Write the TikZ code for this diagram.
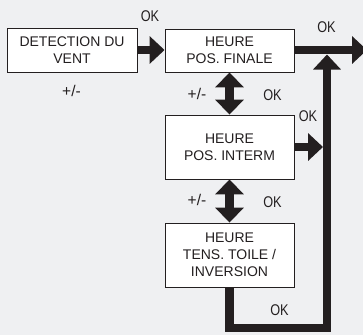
\documentclass[tikz,border=0pt]{standalone}
\usepackage{fontspec}
\setmainfont{Liberation Sans}
\newfontfamily\lblfont[FakeStretch=0.82]{Liberation Sans}
\usetikzlibrary{arrows.meta}
\definecolor{bgc}{RGB}{239,240,242}
\definecolor{ink}{RGB}{35,31,32}
\tikzset{
  box/.style={draw=ink, line width=0.9pt, fill=white, minimum width=129pt, align=center, inner sep=0pt,
    font=\fontsize{14}{17}\selectfont, text=ink},
  lbl/.style={anchor=base, inner sep=0pt, font=\lblfont\fontsize{15.5}{17}\selectfont, text=ink},
  pm/.style={anchor=base, inner sep=0pt, font=\fontsize{15.5}{17}\selectfont, text=ink},
  bigarrow/.style={draw=ink, line width=8.5pt, -{Triangle[width=27pt,length=15pt]}, ink},
  dblarrow/.style={draw=ink, line width=9pt, {Triangle[width=28pt,length=15pt]}-{Triangle[width=28pt,length=15pt]}, ink},
  loopline/.style={draw=ink, line width=8.5pt}
}
\begin{document}
\begin{tikzpicture}[x=1pt,y=-1pt]
\fill[bgc] (0,0) rectangle (363,335);
\useasboundingbox (0,0) rectangle (363,335);
\clip (0,0) rectangle (363,335);
\node[box, minimum width=130pt, minimum height=44pt] (b1) at (72,50) {DETECTION DU\\VENT};
\node[box, minimum height=43pt] (b2) at (229.5,50.5) {HEURE\\POS. FINALE};
\node[box, minimum height=64pt] (b3) at (229.5,147) {HEURE\\POS. INTERM};
\node[box, minimum height=64pt] (b4) at (229.5,255) {HEURE\\TENS. TOILE /\\INVERSION};
\coordinate (out) at (367,50);
\coordinate (vx) at (327,50);
\coordinate (bot) at (229.5,328);
\coordinate (tip) at (327,54.5);
% arrows
\draw[bigarrow] (b1.east |- 0,50) -- (b2.west |- 0,50);
\draw[bigarrow] (b2.east |- 0,50) -- (out);
\draw[dblarrow] (b2.south) -- (b3.north);
\draw[dblarrow] (b3.south) -- (b4.north);
\draw[bigarrow] (b3.east) -- (323,147);
\draw[loopline, line join=miter] (b4.south) -- (bot) -- (bot -| vx) -- (327,300);
\draw[bigarrow] (327,301) -- (tip);
% labels
\node[lbl] (l1) at (150,21) {OK};
\node[pm] (l2) at (71.5,96) {+/-};
\node[lbl] (l3) at (326.5,32) {OK};
\node[pm] (l4) at (197,99) {+/-};
\node[lbl] (l5) at (272.5,100) {OK};
\node[lbl] (l6) at (308,121) {OK};
\node[pm] (l7) at (197,205.5) {+/-};
\node[lbl] (l8) at (272.5,207) {OK};
\node[lbl] (l9) at (279.5,315) {OK};
\end{tikzpicture}
\end{document}
